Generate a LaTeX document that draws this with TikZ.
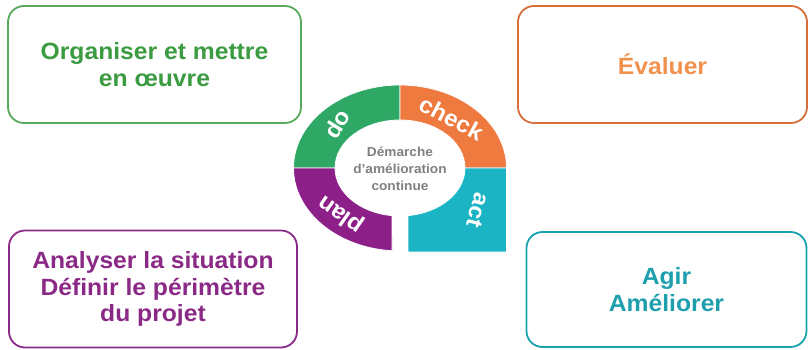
\documentclass[tikz,border=0pt]{standalone}
\usepackage{fontspec}
\setmainfont{Liberation Sans}[FakeStretch=1.05]
\usepackage{tikz}
\usepackage{xcolor}
\usetikzlibrary{positioning}

\definecolor{pdcagreen}{HTML}{2FA866}
\definecolor{pdcaorange}{HTML}{EF7A3F}
\definecolor{pdcapurple}{HTML}{8C2088}
\definecolor{pdcateal}{HTML}{1AB4C4}
\definecolor{txtgreen}{HTML}{3B9B40}
\definecolor{txtorange}{HTML}{F0924E}
\definecolor{txtpurple}{HTML}{8B2A86}
\definecolor{txtteal}{HTML}{1D9FAE}
\definecolor{txtgray}{HTML}{7F7F7F}

\begin{document}
\begin{tikzpicture}[x=1pt, y=1pt,
    stepnode/.style={draw=#1, line width=1.8pt, rounded corners=16pt,
        minimum height=117pt, align=center,
        font=\fontsize{23.5}{26.5}\selectfont\bfseries},
    ringlabel/.style={text=white, font=\fontsize{23}{24}\selectfont\bfseries, inner sep=0pt},
    segment/.style={fill=#1, draw=white, line width=0.8pt}]
    \useasboundingbox (0,0) rectangle (808,350);

    % Boxes
    \node[stepnode=txtgreen!85!white, text=txtgreen, minimum width=293pt] (organiser) at (154.5,285.5) {Organiser et mettre\\en œuvre};
    \node[stepnode=pdcaorange!90!black, text=txtorange, minimum width=289pt] (evaluer) at (662.5,285.5) {Évaluer};
    \node[stepnode=txtpurple, text=txtpurple, minimum width=288pt] (analyser) at (153,61) {Analyser la situation\\Définir le périmètre\\du projet};
    \node[stepnode=pdcateal!90!black, text=txtteal, minimum width=280pt, minimum height=115pt] (agir) at (666.5,60.5) {Agir\\Améliorer};

    % Ring
    \begin{scope}[shift={(400,182)}]
        \fill[segment=pdcagreen] (90:106.5 and 83) arc[start angle=90, end angle=180, x radius=106.5, y radius=83]
            -- (180:65 and 48) arc[start angle=180, end angle=90, x radius=65, y radius=48] -- cycle;
        \fill[segment=pdcaorange] (0:106.5 and 83) arc[start angle=0, end angle=90, x radius=106.5, y radius=83]
            -- (90:65 and 48) arc[start angle=90, end angle=0, x radius=65, y radius=48] -- cycle;
        \fill[segment=pdcapurple] (180:106.5 and 83) arc[start angle=180, end angle=265.7, x radius=106.5, y radius=83]
            -- (262.9:65 and 48) arc[start angle=262.9, end angle=180, x radius=65, y radius=48] -- cycle;
        \fill[segment=pdcateal] (0:65 and 48) -- (106.5,0) -- (106.5,-84) -- (8,-84)
            -- (277.1:65 and 48) arc[start angle=277.1, end angle=360, x radius=65, y radius=48] -- cycle;

        % Labels
        \node[ringlabel, rotate=58] (do) at (-63,44) {do};
        \node[ringlabel, rotate=-28] (check) at (52,50) {check};
        \node[ringlabel, rotate=-105] (act) at (78,-42) {act};
        \node[ringlabel, rotate=145] (plan) at (-59,-46) {plan};
        \node[text=txtgray, align=center, font=\fontsize{13}{17}\selectfont\bfseries] (demarche) at (0,-1) {Démarche\\d’amélioration\\continue};
    \end{scope}
\end{tikzpicture}
\end{document}
